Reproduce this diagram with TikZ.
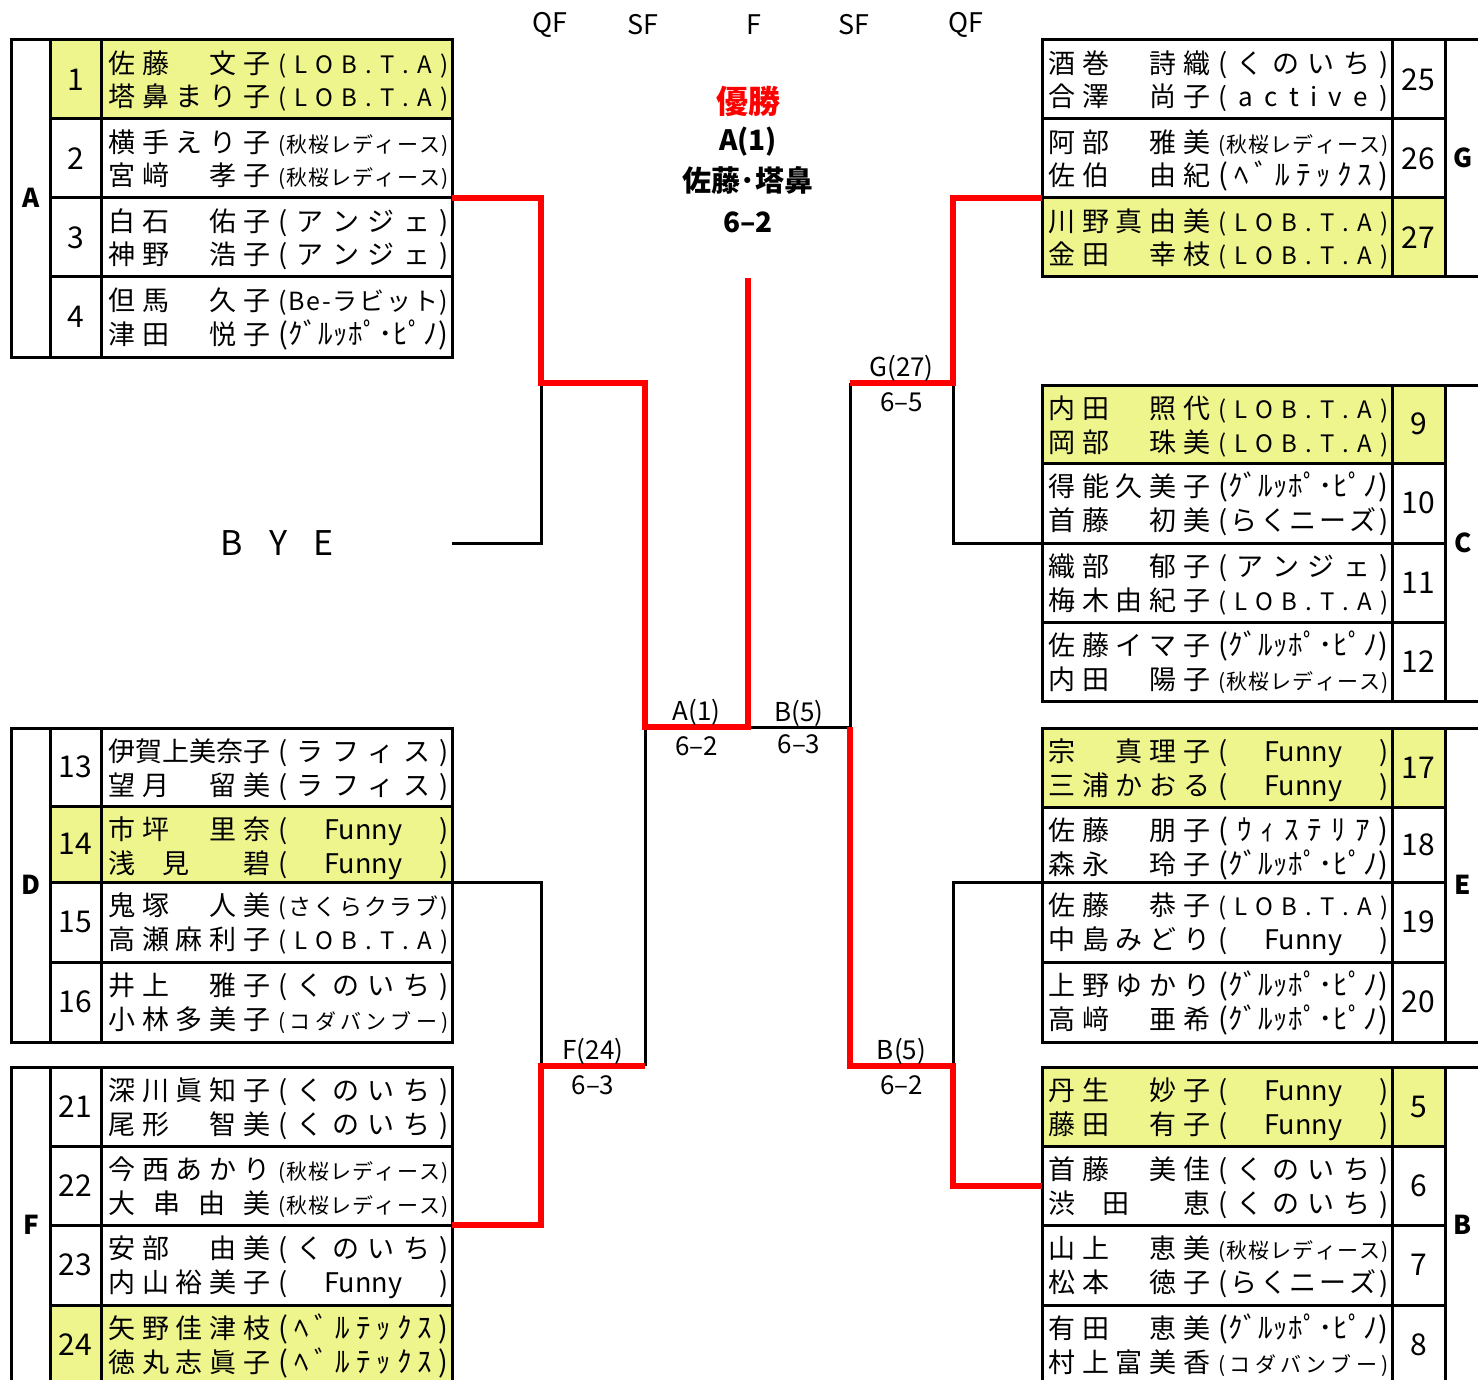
\documentclass[tikz,border=0pt]{standalone}
\usepackage{fontspec}
\setmainfont{Noto Sans CJK JP}
\usepackage{xcolor}
\usetikzlibrary{positioning}

\definecolor{hl}{HTML}{EEF58C}

% spread the letters of a name over its box
\makeatletter
\def\spr@end{\spr@end}
\def\spreadtxt#1{\spr@first#1\spr@end}
\def\spr@first#1{#1\spr@next}
\def\spr@next#1{\ifx\spr@end#1\else\hfill#1\expandafter\spr@next\fi}
\makeatother
\newcommand\nm[1]{\hbox to 81pt{\fontsize{13.5}{14}\selectfont\expandafter\spreadtxt\expandafter{#1}}}
\newcommand\club[2]{\hbox to 85pt{\fontsize{#1}{#1}\selectfont\spreadtxt{(#2)}}}
\newcommand\fny{\hbox{Funny}}
% clubs
\newcommand\LOB{\club{12}{LOB.T.A}}
\newcommand\KUNO{\club{13.5}{くのいち}}
\newcommand\ANJ{\club{13.5}{アンジェ}}
\newcommand\LAF{\club{13.5}{ラフィス}}
\newcommand\ACT{\club{13}{active}}
\newcommand\GP{\club{14.5}{ｸﾞﾙｯﾎﾟ･ﾋﾟﾉ}}
\newcommand\BEL{\club{14.5}{ﾍﾞﾙﾃｯｸｽ}}
\newcommand\WIS{\club{14.5}{ｳｨｽﾃﾘｱ}}
\newcommand\RAKU{\club{13.5}{らくニーズ}}
\newcommand\SAKU{\club{11.5}{さくらクラブ}}
\newcommand\BER{\club{12.5}{Be-ラビット}}
\newcommand\AKI{\club{10.5}{秋桜レディース}}
\newcommand\KODA{\club{10.5}{コダバンブー}}
\newcommand\FUN{\club{13.5}{\fny}}

\begin{document}
\begin{tikzpicture}[x=0.5pt,y=-0.5pt,
    tbl/.style={line width=1.5pt},
    lose/.style={line width=1.5pt},
    won/.style={draw=red,line width=2.8pt},
    num/.style={inner sep=0pt,font=\fontsize{15}{15}\selectfont},
    pline/.style={anchor=base west,inner sep=0pt},
    grp/.style={inner sep=0pt,font=\bfseries\fontsize{13}{13}\selectfont},
    res/.style={inner sep=1pt,font=\fontsize{13}{13}\selectfont},
    hdr/.style={inner sep=0pt,font=\fontsize{13.5}{14}\selectfont},
    ctr/.style={inner sep=0pt,font=\bfseries\fontsize{14}{14}\selectfont}]
  \useasboundingbox (0,0) rectangle (1478,1380);
  \clip (0,0) rectangle (1478,1380);

  % round names
  \foreach \x/\lab in {550/QF, 643/SF, 754/F, 854/SF, 966/QF}
    \node[hdr] (hd\x) at (\x,25) {\lab};

  % left blocks A, D, F
  \foreach \ya/\yb/\no/\col/\na/\ca/\nb/\cb in {
      40/119/1/hl/佐藤　文子/\LOB/塔鼻まり子/\LOB,
      119/198/2/white/横手えり子/\AKI/宮﨑　孝子/\AKI,
      198/277/3/white/白石　佑子/\ANJ/神野　浩子/\ANJ,
      277/357/4/white/但馬　久子/\BER/津田　悦子/\GP,
      728/806/13/white/伊賀上美奈子/\LAF/望月　留美/\LAF,
      806/882/14/hl/市坪　里奈/\FUN/浅　見　　碧/\FUN,
      882/962/15/white/鬼塚　人美/\SAKU/高瀬麻利子/\LOB,
      962/1042/16/white/井上　雅子/\KUNO/小林多美子/\KODA,
      1067/1146/21/white/深川眞知子/\KUNO/尾形　智美/\KUNO,
      1146/1225/22/white/今西あかり/\AKI/大串由美/\AKI,
      1225/1305/23/white/安部　由美/\KUNO/内山裕美子/\FUN,
      1305/1384/24/hl/矢野佳津枝/\BEL/徳丸志眞子/\BEL}{
    \fill[\col] (50,\ya) rectangle (452,\yb);
    \node[num] (no\no) at (75.5,{(\ya+\yb)/2}) {\no};
    \node[pline] (nm\no-1) at (108,\ya+33.5) {\nm{\na}\hskip4pt\ca};
    \node[pline] (nm\no-2) at (108,\ya+67) {\nm{\nb}\hskip4pt\cb};
  }

  % right blocks G, C, E, B
  \foreach \ya/\yb/\no/\col/\na/\ca/\nb/\cb in {
      40/119/25/white/酒巻　詩織/\KUNO/合澤　尚子/\ACT,
      119/198/26/white/阿部　雅美/\AKI/佐伯　由紀/\BEL,
      198/277/27/hl/川野真由美/\LOB/金田　幸枝/\LOB,
      385/463/9/hl/内田　照代/\LOB/岡部　珠美/\LOB,
      463/543/10/white/得能久美子/\GP/首藤　初美/\RAKU,
      543/622/11/white/織部　郁子/\ANJ/梅木由紀子/\LOB,
      622/701/12/white/佐藤イマ子/\GP/内田　陽子/\AKI,
      728/807/17/hl/宗　真理子/\FUN/三浦かおる/\FUN,
      807/882/18/white/佐藤　朋子/\WIS/森永　玲子/\GP,
      882/962/19/white/佐藤　恭子/\LOB/中島みどり/\FUN,
      962/1042/20/white/上野ゆかり/\GP/高﨑　亜希/\GP,
      1067/1146/5/hl/丹生　妙子/\FUN/藤田　有子/\FUN,
      1146/1225/6/white/首藤　美佳/\KUNO/渋　田　　恵/\KUNO,
      1225/1305/7/white/山上　恵美/\AKI/松本　徳子/\RAKU,
      1305/1384/8/white/有田　恵美/\GP/村上富美香/\KODA}{
    \fill[\col] (1042,\ya) rectangle (1445,\yb);
    \node[num] (no\no) at (1418.5,{(\ya+\yb)/2}) {\no};
    \node[pline] (nm\no-1) at (1048,\ya+33.5) {\nm{\na}\hskip4pt\ca};
    \node[pline] (nm\no-2) at (1048,\ya+67) {\nm{\nb}\hskip4pt\cb};
  }

  % table rules
  \draw[tbl] (11,40) rectangle (452,357) (50,40) -- (50,357) (101,40) -- (101,357)
    (50,119) -- (452,119) (50,198) -- (452,198) (50,277) -- (452,277);
  \draw[tbl] (11,728) rectangle (452,1042) (50,728) -- (50,1042) (101,728) -- (101,1042)
    (50,806) -- (452,806) (50,882) -- (452,882) (50,962) -- (452,962);
  \draw[tbl] (11,1067) rectangle (452,1384) (50,1067) -- (50,1384) (101,1067) -- (101,1384)
    (50,1146) -- (452,1146) (50,1225) -- (452,1225) (50,1305) -- (452,1305);
  \draw[tbl] (1042,40) rectangle (1520,277) (1392,40) -- (1392,277) (1445,40) -- (1445,277)
    (1042,119) -- (1445,119) (1042,198) -- (1445,198);
  \draw[tbl] (1042,385) rectangle (1520,701) (1392,385) -- (1392,701) (1445,385) -- (1445,701)
    (1042,463) -- (1445,463) (1042,543) -- (1445,543) (1042,622) -- (1445,622);
  \draw[tbl] (1042,728) rectangle (1520,1042) (1392,728) -- (1392,1042) (1445,728) -- (1445,1042)
    (1042,807) -- (1445,807) (1042,882) -- (1445,882) (1042,962) -- (1445,962);
  \draw[tbl] (1042,1067) rectangle (1520,1384) (1392,1067) -- (1392,1384) (1445,1067) -- (1445,1384)
    (1042,1146) -- (1445,1146) (1042,1225) -- (1445,1225) (1042,1305) -- (1445,1305);

  % block letters
  \foreach \x/\y/\g in {31/198/A, 31/885/D, 31/1225/F, 1463/158/G, 1463/543/C, 1463/885/E, 1463/1225/B}
    \node[grp] (grp\g) at (\x,\y) {\g};

  \node[inner sep=0pt,font=\fontsize{17}{17}\selectfont] (byetxt) at (277,543) {\hbox to 57pt{B\hfill Y\hfill E}};

  % bracket points
  \coordinate (tA) at (452,198);
  \coordinate (tBye) at (452,543);
  \coordinate (tD) at (452,882);
  \coordinate (tF) at (452,1225);
  \coordinate (qA) at (541,383);
  \coordinate (qF) at (541,1066);
  \coordinate (sF) at (645,1066);
  \coordinate (sA) at (645,727);
  \coordinate (fA) at (748,727);
  \coordinate (champ) at (748,278);
  \coordinate (sB) at (850,727);
  \coordinate (sG) at (850,383);
  \coordinate (qG) at (953,383);
  \coordinate (qB) at (953,1066);
  \coordinate (tG) at (1042,198);
  \coordinate (tC) at (1042,543);
  \coordinate (tE) at (1042,882);
  \coordinate (tB) at (1042,1186);

  % lost
  \draw[lose] (tBye) -| (qA);
  \draw[lose] (tD) -| (qF);
  \draw[lose] (sF) -- (sA);
  \draw[lose] (fA) -- node[res,above=-1.5pt]{B(5)} node[res,below=2.3pt]{6--3} (sB);
  \draw[lose] (tC) -| (qG);
  \draw[lose] (sG) -- (sB);
  \draw[lose] (tE) -| (qB);

  % won
  \draw[won] (tA) -| (qA) -| (sA) -- node[res,above=-1.5pt]{A(1)} node[res,below=2.3pt]{6--2} (fA) -- (champ);
  \draw[won] (tF) -| (qF) -- node[res,above=-1.5pt]{F(24)} node[res,below=2.3pt]{6--3} (sF);
  \draw[won] (tG) -| (qG) -- node[res,above=-1.5pt]{G(27)} node[res,below=2.3pt]{6--5} (sG);
  \draw[won] (sB) |- node[res,pos=0.75,above=-1.5pt]{B(5)} node[res,pos=0.75,below=2.3pt]{6--2} (qB) |- (tB);

  % champion
  \node[ctr,text=red,font=\bfseries\fontsize{16}{16}\selectfont] (yusho) at (748,101) {優勝};
  \node[ctr] (wteam) at (748,142) {A(1)};
  \node[ctr,font=\bfseries\fontsize{14.5}{15}\selectfont] (wname) at (748,180) {佐藤･塔鼻};
  \node[ctr] (wscore) at (748,222) {6--2};
\end{tikzpicture}
\end{document}
